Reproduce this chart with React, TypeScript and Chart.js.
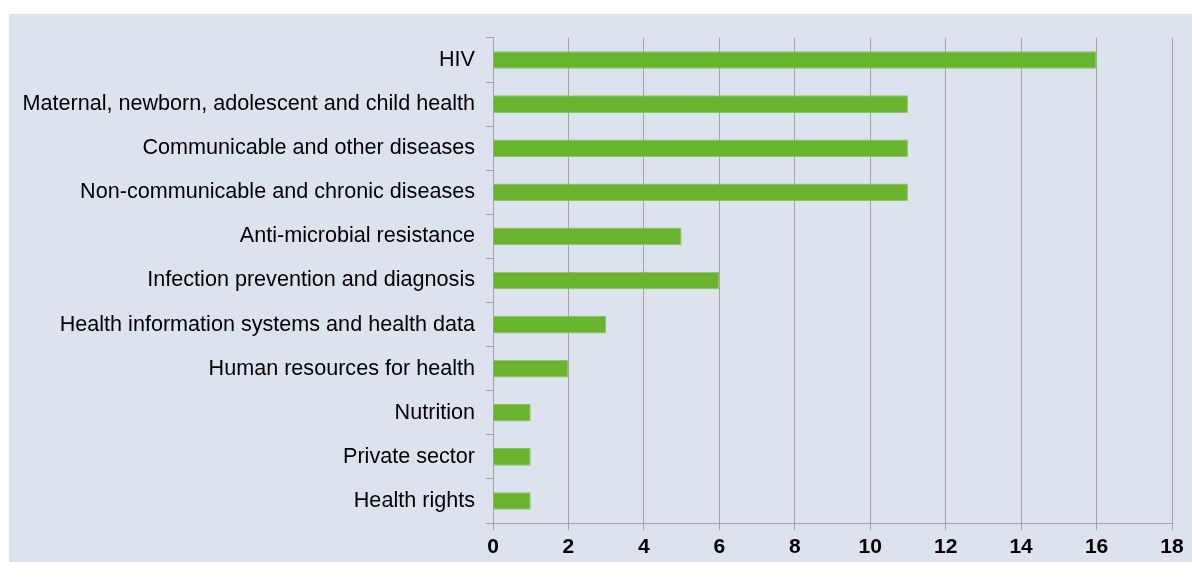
import React, { useEffect, useRef } from "react";
import { Chart, registerables } from "chart.js";

Chart.register(...registerables);

const categories = [
  "HIV",
  "Maternal, newborn, adolescent and child health",
  "Communicable and other diseases",
  "Non-communicable and chronic diseases",
  "Anti-microbial resistance",
  "Infection prevention and diagnosis",
  "Health information systems and health data",
  "Human resources for health",
  "Nutrition",
  "Private sector",
  "Health rights",
];
const values = [16, 11, 11, 11, 5, 6, 3, 2, 1, 1, 1];
const xMin = 0;
const xMax = 18;
const xStep = 2;

export default function App() {
  const ref = useRef<HTMLCanvasElement>(null);
  useEffect(() => {
    if (!ref.current) return;
    const grey = "#a3a3a3";
    const chart = new Chart(ref.current, {
      type: "bar",
      data: {
        labels: categories,
        datasets: [
          {
            data: values,
            backgroundColor: "#68b42f",
            borderColor: "#8cc65e",
            borderWidth: 1,
            categoryPercentage: 0.8,
            barPercentage: 0.5,
          },
        ],
      },
      options: {
        indexAxis: "y",
        responsive: false,
        animation: false,
        layout: { padding: { top: 22, right: 20, bottom: 0, left: 0 } },
        plugins: { legend: { display: false }, tooltip: { enabled: false } },
        scales: {
          x: {
            min: xMin,
            max: xMax,
            ticks: {
              stepSize: xStep,
              color: "#000",
              padding: 5,
              font: { family: "'Liberation Sans', Arial, sans-serif", size: 21, weight: "bold" },
            },
            grid: { color: grey, lineWidth: 1, tickLength: 7, drawTicks: true },
            border: { color: grey, width: 1 },
            afterFit: (s: any) => {
              s.height = 39;
            },
          },
          y: {
            ticks: {
              color: "#000",
              padding: 11,
              font: { family: "'Liberation Sans', Arial, sans-serif", size: 21.6 },
            },
            grid: { color: grey, drawOnChartArea: false, drawTicks: true, tickLength: 7, offset: true },
            border: { color: grey, width: 1 },
            afterFit: (s: any) => {
              s.width = 484;
            },
          },
        },
      },
    });
    return () => chart.destroy();
  }, []);
  return (
    <div
      style={{
        position: "absolute",
        left: 9,
        top: 14,
        width: 1183,
        height: 548,
        background: "#dce3ee",
      }}
    >
      <canvas ref={ref} width={1183} height={548} style={{ display: "block" }} />
    </div>
  );
}
